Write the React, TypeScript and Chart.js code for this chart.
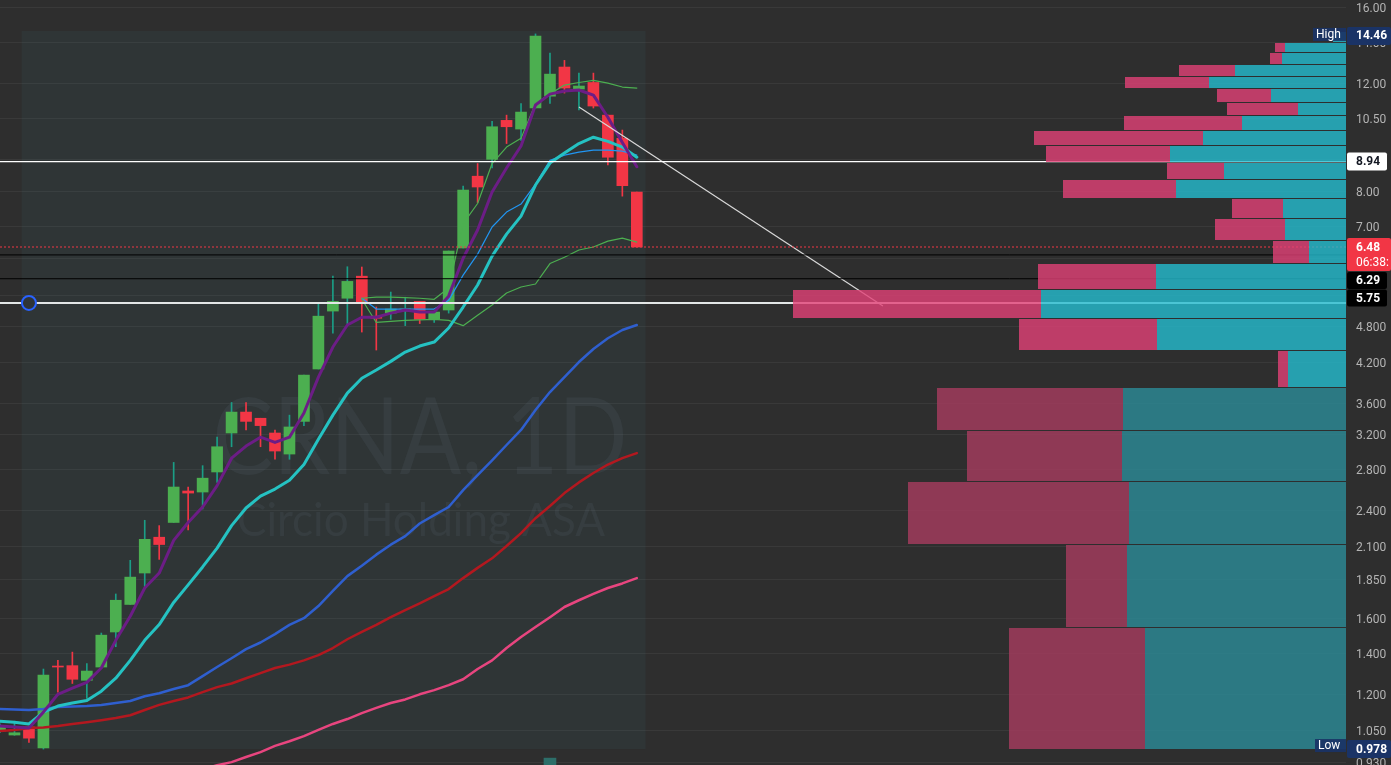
import React, { useEffect, useRef } from 'react';
import { Chart, registerables } from 'chart.js';

Chart.register(...registerables);

// ---------------- Chart data (CRNA, 1D) ----------------
const TICKER = 'CRNA, 1D';
const COMPANY = 'Circio Holding ASA';

const OPEN = [1.047, 1.031, 1.063, 0.982, 1.333, 1.339, 1.267, 1.332, 1.520, 1.686,
  1.898, 2.172, 2.296, 2.585, 2.575, 2.777, 3.216, 3.480, 3.400, 3.216,
  2.971, 3.360, 4.093, 5.091, 5.343, 5.806, 4.994, 5.052, 5.091, 5.280,
  4.935, 5.111, 6.456, 8.461, 9.016, 10.441, 10.105, 10.938, 11.437, 12.764,
  11.749, 12.043, 10.649, 9.760, 7.970];
const HIGH = [1.075, 1.086, 1.063, 1.322, 1.366, 1.409, 1.349, 1.514, 1.754, 1.991,
  2.315, 2.269, 2.879, 2.624, 2.844, 3.166, 3.608, 3.608, 3.400, 3.253,
  3.440, 4.000, 5.259, 5.806, 6.016, 6.010, 5.169, 5.469, 5.364, 5.280,
  5.072, 6.383, 8.154, 8.874, 10.400, 10.649, 11.124, 14.46, 13.451, 13.088,
  12.476, 12.476, 10.649, 10.067, 7.970];
const LOW = [1.040, 1.030, 1.003, 0.978, 1.212, 1.252, 1.184, 1.332, 1.438, 1.686,
  1.801, 1.998, 2.296, 2.232, 2.416, 2.670, 3.054, 3.253, 3.054, 2.913,
  2.913, 3.307, 4.093, 4.686, 4.857, 4.704, 4.396, 4.935, 4.819, 4.857,
  4.877, 5.052, 6.456, 7.664, 8.725, 9.568, 9.683, 10.938, 11.124, 11.570,
  10.855, 10.938, 8.824, 7.848, 6.480];
const CLOSE = [1.067, 1.040, 1.019, 1.292, 1.332, 1.272, 1.312, 1.502, 1.713, 1.869,
  2.155, 2.113, 2.624, 2.565, 2.713, 3.054, 3.480, 3.360, 3.307, 3.005,
  3.290, 4.000, 4.994, 5.280, 5.693, 5.259, 4.955, 5.130, 5.130, 4.935,
  5.072, 6.383, 8.031, 8.123, 10.193, 10.193, 10.772, 14.336, 12.428, 11.793,
  11.883, 11.020, 9.087, 8.164, 6.480];

// moving averages (one value per candle)
const MA_FAST = [1.067, 1.063, 1.059, 1.124, 1.202, 1.230, 1.257, 1.327, 1.473, 1.613,
  1.794, 1.898, 2.146, 2.296, 2.434, 2.638, 2.925, 3.062, 3.166, 3.104,
  3.166, 3.467, 3.969, 4.446, 4.830, 4.974, 4.974, 5.052, 5.111, 5.072,
  5.072, 5.385, 6.212, 6.908, 7.970, 8.725, 9.479, 11.062, 11.526, 11.660,
  11.705, 11.482, 10.565, 9.607, 8.767];
const MA_20 = [1.086, 1.082, 1.075, 1.124, 1.150, 1.163, 1.174, 1.216, 1.277, 1.366,
  1.473, 1.563, 1.699, 1.815, 1.942, 2.085, 2.269, 2.425, 2.535, 2.604,
  2.691, 2.856, 3.141, 3.440, 3.738, 3.953, 4.077, 4.212, 4.362, 4.463,
  4.530, 4.776, 5.169, 5.616, 6.260, 6.803, 7.278, 8.184, 8.890, 9.230,
  9.568, 9.798, 9.645, 9.443, 9.087];
const MA_50 = [1.137, 1.135, 1.133, 1.137, 1.146, 1.148, 1.150, 1.155, 1.163, 1.172,
  1.193, 1.207, 1.226, 1.244, 1.287, 1.332, 1.377, 1.425, 1.461, 1.508,
  1.561, 1.601, 1.676, 1.774, 1.876, 1.951, 2.034, 2.112, 2.181, 2.287,
  2.361, 2.434, 2.594, 2.745, 2.902, 3.074, 3.253, 3.507, 3.752, 3.969,
  4.202, 4.413, 4.595, 4.740, 4.830];
const MA_100 = [1.047, 1.051, 1.059, 1.061, 1.067, 1.075, 1.082, 1.090, 1.099, 1.111,
  1.133, 1.155, 1.172, 1.188, 1.212, 1.235, 1.252, 1.277, 1.302, 1.327,
  1.344, 1.366, 1.393, 1.431, 1.479, 1.520, 1.561, 1.607, 1.651, 1.693,
  1.740, 1.787, 1.862, 1.935, 2.006, 2.101, 2.206, 2.333, 2.443, 2.565,
  2.670, 2.766, 2.856, 2.925, 2.982];
const MA_200_START = 14;
const MA_200 = [0.907, 0.920, 0.931, 0.949, 0.967, 0.990, 1.007, 1.027, 1.051, 1.075,
  1.095, 1.120, 1.142, 1.163, 1.179, 1.202, 1.221, 1.244, 1.272, 1.322,
  1.366, 1.431, 1.491, 1.549, 1.607, 1.670, 1.713, 1.754, 1.794, 1.825, 1.862];

// anchored VWAP with bands (starts at candle 25)
const VWAP_START = 25;
const VWAP_UPPER = [5.343, 5.364, 5.364, 5.354, 5.343, 5.322, 5.553, 7.079, 7.634, 8.874,
  9.443, 9.760, 11.124, 11.526, 11.927, 12.043, 12.139, 12.016, 11.838, 11.793];
const VWAP_BASIS = [5.343, 5.130, 5.130, 5.130, 5.130, 5.130, 5.301, 5.829, 6.309, 6.987,
  7.391, 7.618, 8.215, 8.981, 9.158, 9.265, 9.336, 9.336, 9.301, 9.158];
const VWAP_LOWER = [5.322, 4.877, 4.897, 4.916, 4.926, 4.935, 4.916, 4.819, 5.013, 5.208,
  5.448, 5.574, 5.637, 6.089, 6.236, 6.407, 6.480, 6.626, 6.700, 6.602];

// volume profile rows, bottom to top (relative volume)
const VP_LOW = 0.978;
const VP_HIGH = 14.62;
const VP_DOWN = [136, 61, 221, 155, 186, 10, 138, 248, 118, 36, 70, 51, 113, 57, 124, 169, 118, 71, 54, 84, 56, 12, 10, 0];
const VP_UP = [201, 219, 217, 224, 223, 58, 189, 305, 190, 37, 61, 63, 170, 122, 176, 143, 104, 48, 75, 137, 111, 64, 61, 13];
const VP_VALUE_AREA_FROM = 5;
const VP_AXIS_MAX = 1346;

// volume pane peek (only the visible bar)
const VOLUME_IDX = [38];
const VOLUME_VAL = [0.9];

// levels / drawings
const LAST_PRICE = 6.48;
const COUNTDOWN = '06:38:';
const LEVEL_WHITE = 8.94;
const LEVEL_BLACK = [6.29, 5.75];
const LEVEL_SUPPORT = 5.25;
const ANCHOR_IDX = 2;
const TREND_IDX = [40, 61];
const TREND_PRICE = [10.98, 5.19];
const RANGE_FROM = 1.5;
const RANGE_TO = 44.6;
const RANGE_HIGH = 14.62;
const RANGE_LOW = 0.978;
const HIGH_PRICE = 14.46;
const LOW_PRICE = 0.978;

const TICK_VALUES = [16, 14, 12, 10.5, 9, 8, 7, 6.2, 5.4, 4.8, 4.2, 3.6, 3.2, 2.8, 2.4, 2.1, 1.85, 1.6, 1.4, 1.2, 1.05, 0.93];
const TICK_LABELS = ['16.00', '14.00', '12.00', '10.50', '9.00', '8.00', '7.00', '6.20', '5.40', '4.800', '4.200', '3.600',
  '3.200', '2.800', '2.400', '2.100', '1.850', '1.600', '1.400', '1.200', '1.050', '0.930'];

const Y_MIN = 0.921;
const Y_MAX = 16.43;
const X_MAX = 93;

// ---------------- styling ----------------
const BG = '#2e2e2e';
const UP = '#4caf50';
const DOWN = '#f23645';
const WICK_UP = '#1b9e86';
const NAVY = '#1a3366';

const series = (arr: number[], start = 0) => arr.map((v, i) => ({ x: i + start, y: v }));

const zeroPad = (s: any) => {
  s.paddingLeft = 0;
  s.paddingRight = 0;
  s.paddingTop = 0;
  s.paddingBottom = 0;
};

function fitText(ctx: any, text: string, cx: number, base: number, size: number, targetW: number) {
  ctx.font = `${size}px Lato`;
  const w = ctx.measureText(text).width;
  ctx.save();
  ctx.translate(cx, base);
  ctx.scale(targetW / w, 1);
  ctx.fillText(text, 0, 0);
  ctx.restore();
}

const bgPlugin = {
  id: 'bg',
  beforeDraw(chart: any) {
    const { ctx, width, height } = chart;
    ctx.save();
    ctx.fillStyle = BG;
    ctx.fillRect(0, 0, width, height);
    ctx.restore();
  },
};

const rangePlugin = {
  id: 'rangeBox',
  beforeDatasetsDraw(chart: any) {
    const { ctx } = chart;
    const xs = chart.scales.x;
    const ys = chart.scales.y;
    const x0 = xs.getPixelForValue(RANGE_FROM);
    const x1 = xs.getPixelForValue(RANGE_TO);
    const y0 = ys.getPixelForValue(RANGE_HIGH);
    const y1 = ys.getPixelForValue(RANGE_LOW);
    ctx.save();
    ctx.fillStyle = 'rgba(60,140,150,0.08)';
    ctx.fillRect(x0, y0, x1 - x0, y1 - y0);
    ctx.fillStyle = 'rgba(120,135,160,0.10)';
    ctx.textAlign = 'center';
    ctx.textBaseline = 'alphabetic';
    fitText(ctx, TICKER, 420, 474, 107, 415);
    fitText(ctx, COMPANY, 421, 536, 46, 368);
    ctx.restore();
  },
};

const vpPlugin = {
  id: 'volumeProfile',
  afterDatasetsDraw(chart: any) {
    const { ctx, chartArea } = chart;
    const ys = chart.scales.y;
    const right = chartArea.right;
    const volToX = (v: number) => right - (v / VP_AXIS_MAX) * (chartArea.right - chartArea.left);
    ctx.save();
    const n = VP_UP.length;
    const step = (VP_HIGH - VP_LOW) / n;
    for (let k = 0; k < n; k++) {
      const lo = VP_LOW + k * step;
      const hi = lo + step;
      const top = Math.round(ys.getPixelForValue(hi)) + 1;
      const bot = Math.round(ys.getPixelForValue(lo));
      const h = bot - top;
      const xR = volToX(0);
      const xM = volToX(VP_UP[k]);
      const xL = volToX(VP_UP[k] + VP_DOWN[k]);
      const va = k >= VP_VALUE_AREA_FROM;
      ctx.fillStyle = va ? 'rgba(36,189,207,0.8)' : 'rgba(44,140,152,0.8)';
      ctx.fillRect(xM, top, xR - xM, h);
      if (VP_DOWN[k] > 0) {
        ctx.fillStyle = va ? 'rgba(226,65,119,0.8)' : 'rgba(167,60,95,0.8)';
        ctx.fillRect(xL, top, xM - xL, h);
      }
    }
    ctx.restore();
  },
};

const labelPlugin = {
  id: 'priceLabels',
  afterDraw(chart: any) {
    const { ctx } = chart;
    const ys = chart.scales.y;
    const right = chart.chartArea.right;
    const left = right + 1;
    const tx = right + 10;
    const W = chart.width;
    ctx.save();
    ctx.textBaseline = 'middle';
    ctx.textAlign = 'left';
    const box = (top: number, h: number, w: number, fill: string) => {
      ctx.fillStyle = fill;
      ctx.beginPath();
      ctx.roundRect(left, top, w, h, 2);
      ctx.fill();
    };
    const yh = ys.getPixelForValue(HIGH_PRICE);
    const yl = ys.getPixelForValue(LOW_PRICE);
    // High / Low tags inside the pane
    ctx.font = '12px Roboto';
    ctx.fillStyle = 'rgba(26,51,102,0.92)';
    ctx.fillRect(right - 33, yh - 6, 33, 13);
    ctx.fillRect(right - 31, yl - 10, 31, 13);
    ctx.fillStyle = '#ffffff';
    ctx.fillText('High', right - 30, yh + 1);
    ctx.fillText('Low', right - 28, yl - 3);
    // high
    box(yh - 7, 18, W - left, NAVY);
    ctx.font = 'bold 12px Roboto';
    ctx.fillStyle = '#ffffff';
    ctx.fillText(HIGH_PRICE.toFixed(2), tx, yh + 2.5);
    // white level
    const yw = ys.getPixelForValue(LEVEL_WHITE);
    box(yw - 9, 18, 40, '#ffffff');
    ctx.fillStyle = '#131722';
    ctx.fillText(LEVEL_WHITE.toFixed(2), tx, yw + 0.5);
    // last price
    const yp = ys.getPixelForValue(LAST_PRICE);
    box(yp - 9, 33, W - left, DOWN);
    ctx.fillStyle = '#ffffff';
    ctx.fillText(LAST_PRICE.toFixed(2), tx, yp + 0.5);
    ctx.font = '12px Roboto';
    ctx.fillText(COUNTDOWN, tx, yp + 15.5);
    // black levels (stacked under the last price label)
    ctx.font = 'bold 12px Roboto';
    let top = yp - 9 + 34;
    LEVEL_BLACK.forEach((v) => {
      box(top, 17, 40, '#000000');
      ctx.fillStyle = '#ffffff';
      ctx.fillText(v.toFixed(2), tx, top + 9);
      top += 17.5;
    });
    // low
    box(yl - 9, 18, W - left, NAVY);
    ctx.fillStyle = '#ffffff';
    ctx.fillText(LOW_PRICE.toFixed(3), tx, yl + 0.5);
    ctx.restore();
  },
};

export default function App() {
  const ref = useRef<HTMLCanvasElement>(null);

  useEffect(() => {
    document.body.style.margin = '0';
    const canvas = ref.current;
    if (!canvas) return;

    const isUp = OPEN.map((o, i) => CLOSE[i] >= o);
    const bodies = OPEN.map((o, i) => ({ x: i, y: [o, CLOSE[i]] }));
    const wicks = OPEN.map((_, i) => ({ x: i, y: [LOW[i], HIGH[i]] }));

    const hline = (price: number, color: string, width: number, dash: number[] = []) => ({
      type: 'line',
      data: [{ x: 0, y: price }, { x: X_MAX, y: price }],
      xAxisID: 'x',
      yAxisID: 'y',
      borderColor: color,
      borderWidth: width,
      borderDash: dash,
      pointRadius: 0,
      order: 0,
    });

    const maLine = (data: any[], color: string, width: number, order: number) => ({
      type: 'line',
      data,
      xAxisID: 'x',
      yAxisID: 'y',
      borderColor: color,
      borderWidth: width,
      pointRadius: 0,
      tension: 0,
      borderJoinStyle: 'round',
      borderCapStyle: 'round',
      order,
    });

    const hiddenAxis = (extra: any) => ({
      display: false,
      ticks: { display: false },
      grid: { display: false },
      afterFit: zeroPad,
      ...extra,
    });

    const chart = new Chart(canvas, {
      type: 'bar',
      data: {
        datasets: [
          {
            type: 'line',
            data: [{ x: ANCHOR_IDX, y: LEVEL_SUPPORT }],
            xAxisID: 'x',
            yAxisID: 'y',
            showLine: false,
            pointRadius: 7,
            pointBorderWidth: 2,
            pointBorderColor: '#2962ff',
            pointBackgroundColor: '#2f3436',
            order: 0,
          },
          hline(LEVEL_SUPPORT, '#e3e6e6', 2),
          hline(LEVEL_WHITE, '#ffffff', 1.2),
          hline(LAST_PRICE, DOWN, 1, [2, 2]),
          hline(LEVEL_BLACK[0], '#000000', 1),
          hline(LEVEL_BLACK[1], '#000000', 1),
          {
            type: 'line',
            data: TREND_IDX.map((x, i) => ({ x, y: TREND_PRICE[i] })),
            xAxisID: 'x',
            yAxisID: 'y',
            borderColor: '#d8d8d8',
            borderWidth: 1.2,
            pointRadius: 0,
            order: 0,
          },
          maLine(series(MA_FAST), '#6c1d86', 3, 1),
          maLine(series(MA_20), '#25c2c2', 3, 1),
          maLine(series(MA_50), '#2f5fcf', 2.5, 1),
          maLine(series(MA_100), '#b3181f', 2.5, 1),
          maLine(series(MA_200, MA_200_START), '#e8457f', 2.5, 1),
          maLine(series(VWAP_UPPER, VWAP_START), '#4caf50', 1.2, 2),
          maLine(series(VWAP_BASIS, VWAP_START), '#2196f3', 1.2, 2),
          maLine(series(VWAP_LOWER, VWAP_START), '#4caf50', 1.2, 2),
          {
            type: 'bar',
            data: bodies,
            xAxisID: 'x',
            yAxisID: 'y',
            backgroundColor: isUp.map((u) => (u ? UP : DOWN)),
            barThickness: 11,
            minBarLength: 1,
            grouped: false,
            borderWidth: 0,
            order: 3,
          },
          {
            type: 'bar',
            data: wicks,
            xAxisID: 'x',
            yAxisID: 'y',
            backgroundColor: isUp.map((u) => (u ? WICK_UP : DOWN)),
            barThickness: 1,
            grouped: false,
            borderWidth: 0,
            order: 4,
          },
          {
            type: 'bar',
            data: VOLUME_IDX.map((x, i) => ({ x, y: VOLUME_VAL[i] })),
            xAxisID: 'x',
            yAxisID: 'yv',
            backgroundColor: '#2d6e69',
            barThickness: 12,
            grouped: false,
            borderWidth: 0,
            order: 5,
          },
        ] as any,
      },
      options: {
        responsive: false,
        animation: false,
        devicePixelRatio: 1,
        events: [],
        layout: { padding: 0, autoPadding: false },
        plugins: { legend: { display: false }, tooltip: { enabled: false } },
        scales: {
          x: hiddenAxis({ type: 'linear', min: 0, max: X_MAX, offset: false }),
          yv: hiddenAxis({ type: 'linear', min: 0, max: 100, position: 'left' }),
          y: {
            type: 'logarithmic',
            position: 'right',
            min: Y_MIN,
            max: Y_MAX,
            bounds: 'data',
            grid: { color: 'rgba(255,255,255,0.055)', drawTicks: false, lineWidth: 1 },
            border: { display: false },
            ticks: {
              autoSkip: false,
              padding: 10,
              labelOffset: 1.5,
              color: '#b4b4b4',
              font: { family: 'Roboto', size: 12 },
              crossAlign: 'near',
              callback: (v: any) => {
                const k = TICK_VALUES.indexOf(Number(v));
                return k >= 0 ? TICK_LABELS[k] : '';
              },
            },
            afterBuildTicks: (s: any) => {
              s.ticks = TICK_VALUES.slice().sort((a, b) => a - b).map((v) => ({ value: v }));
            },
            afterFit: (s: any) => {
              s.width = 45;
              zeroPad(s);
            },
          },
        } as any,
      },
      plugins: [bgPlugin, rangePlugin, vpPlugin, labelPlugin],
    } as any);

    return () => chart.destroy();
  }, []);

  return (
    <div style={{ position: 'fixed', left: 0, top: 0, width: 1391, height: 765, background: BG }}>
      <canvas ref={ref} width={1391} height={765} style={{ display: 'block', width: 1391, height: 765 }} />
    </div>
  );
}
